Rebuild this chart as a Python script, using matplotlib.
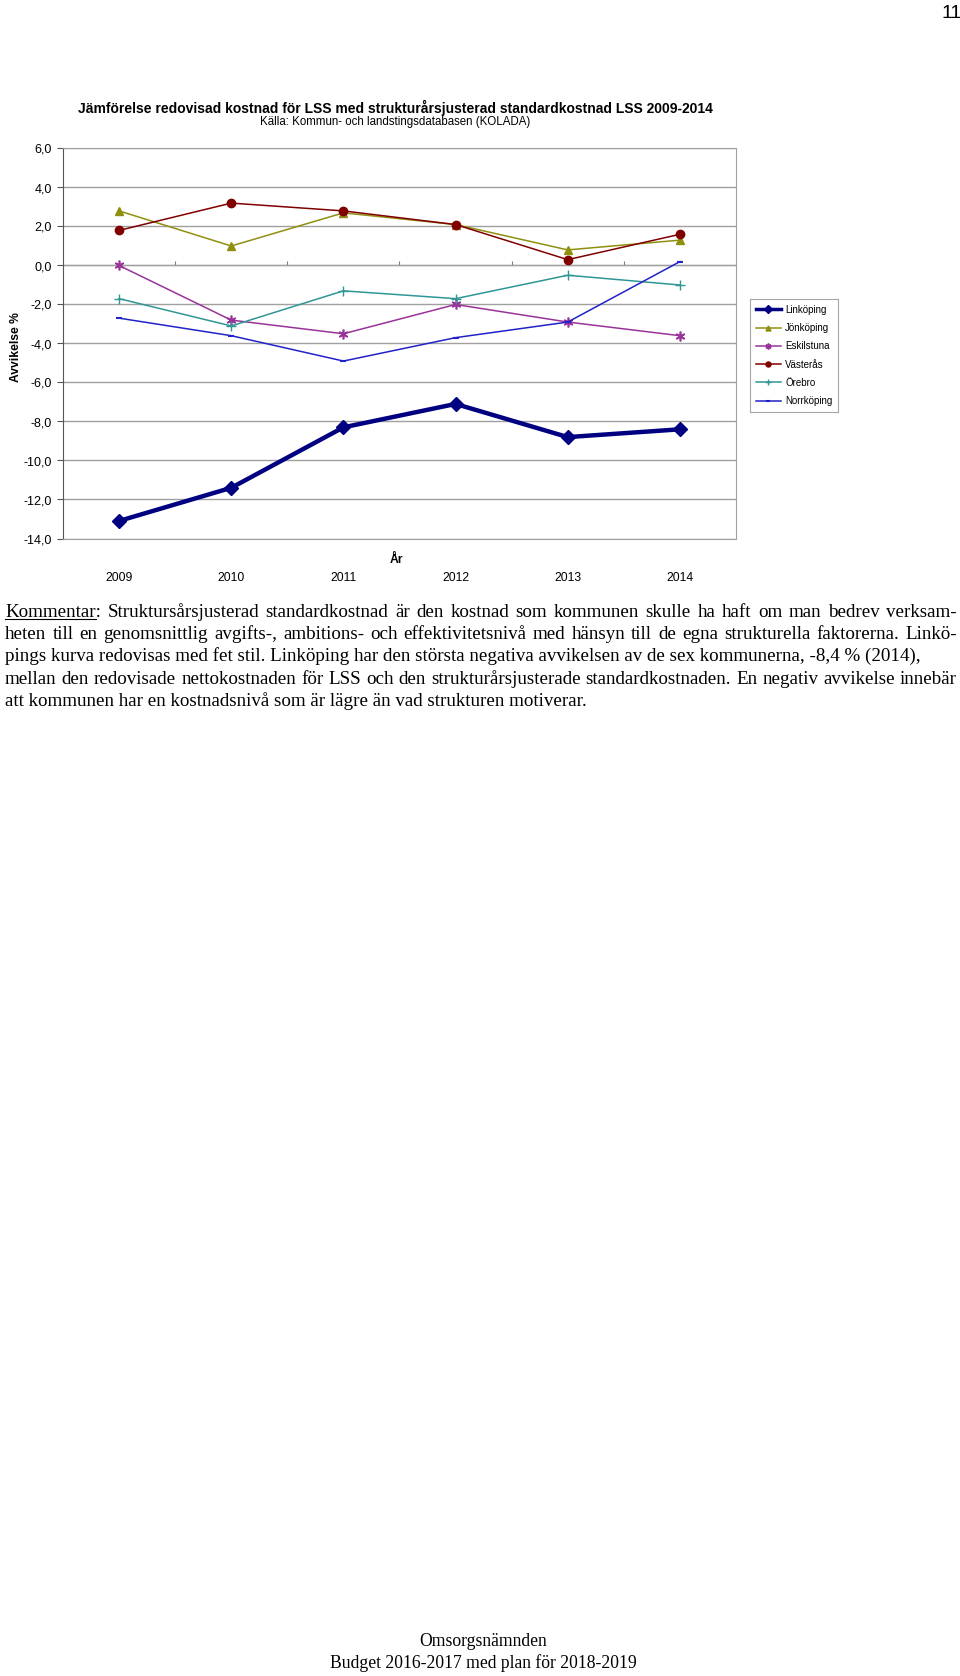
import matplotlib
matplotlib.use("Agg")
import matplotlib.pyplot as plt
from matplotlib.lines import Line2D

# Data (avvikelse %)
years = ["2009", "2010", "2011", "2012", "2013", "2014"]
linkoping = [-13.1, -11.4, -8.3, -7.1, -8.8, -8.4]
jonkoping = [2.8, 1.0, 2.7, 2.1, 0.8, 1.3]
eskilstuna = [0.0, -2.8, -3.5, -2.0, -2.9, -3.6]
vasteras = [1.8, 3.2, 2.8, 2.1, 0.3, 1.6]
orebro = [-1.7, -3.1, -1.3, -1.7, -0.5, -1.0]
norrkoping = [-2.7, -3.6, -4.9, -3.7, -2.9, 0.2]

yticks = [6, 4, 2, 0, -2, -4, -6, -8, -10, -12, -14]

comment_lines = [
    "Kommentar: Struktursårsjusterad standardkostnad är den kostnad som kommunen skulle ha haft om man bedrev verksam-",
    "heten till en genomsnittlig avgifts-, ambitions- och effektivitetsnivå med hänsyn till de egna strukturella faktorerna. Linkö-",
    "pings kurva redovisas med fet stil. Linköping har den största negativa avvikelsen av de sex kommunerna, -8,4 % (2014),",
    "mellan den redovisade nettokostnaden för LSS och den strukturårsjusterade standardkostnaden. En negativ avvikelse innebär",
    "att kommunen har en kostnadsnivå som är lägre än vad strukturen motiverar.",
]
justified = [True, True, False, True, False]

W, H = 960, 1676
fig = plt.figure(figsize=(W / 100, H / 100), dpi=100)
plt.rcParams["font.family"] = ["Liberation Sans", "DejaVu Sans"]

ax = fig.add_axes([63 / W, 1 - 538.5 / H, (736 - 63) / W, (538.5 - 148.5) / H])
x = list(range(len(years)))

series = [
    ("Linköping", linkoping, dict(color="#000080", lw=3.2, marker="D", ms=7)),
    ("Jönköping", jonkoping, dict(color="#8f8f10", lw=1.1, marker="^", ms=6)),
    ("Eskilstuna", eskilstuna, dict(color="#993399", lw=1.1, marker=(6, 2, 0), ms=7, mew=1.2)),
    ("Västerås", vasteras, dict(color="#800000", lw=1.1, marker="o", ms=6)),
    ("Örebro", orebro, dict(color="#2f9696", lw=1.1, marker="+", ms=7, mew=1.0)),
    ("Norrköping", norrkoping, dict(color="#2222c8", lw=1.1, marker="_", ms=4, mew=1.5)),
]
for name, vals, st in series:
    ax.plot(x, vals, label=name, **st, zorder=3)

ax.set_xlim(-0.5, len(years) - 0.5)
ax.set_ylim(-14, 6)
ax.set_yticks(yticks)
ax.set_yticklabels([f"{v:.1f}".replace(".", ",") for v in yticks], fontsize=9)
ax.tick_params(axis="y", direction="out", length=4, color="#555555", pad=4)
ax.grid(axis="y", color="#a0a0a0", lw=1.0)
ax.set_axisbelow(True)

# category labels below the plot area
ax.set_xticks(x)
ax.set_xticklabels(years, fontsize=8.7)
ax.tick_params(axis="x", length=0, pad=24)

for s in ["top", "right", "bottom"]:
    ax.spines[s].set_color("#a0a0a0")
ax.spines["left"].set_color("#555555")

# category axis crossing at 0 with boundary ticks
ymin, ymax = ax.get_ylim()
sec = ax.secondary_xaxis((0 - ymin) / (ymax - ymin))
sec.set_xticks([i + 0.5 for i in x[:-1]])
sec.set_xticklabels([])
sec.tick_params(direction="out", length=3, color="#808080")
sec.spines["bottom"].set_color("#808080")

ax.set_ylabel("Avvikelse %", fontsize=8.7, fontweight="bold")
ax.yaxis.set_label_coords(-0.061, 0.49)
ax.text(0.495, -0.055, "År", transform=ax.transAxes, fontsize=8.7,
        fontweight="bold", ha="center", va="center")

leg = fig.legend(loc="upper left", bbox_to_anchor=(750 / W, 1 - 299 / H),
                 borderaxespad=0, fontsize=7, frameon=True, fancybox=False,
                 borderpad=0.6, labelspacing=0.85, handlelength=2.6,
                 handletextpad=0.4, markerscale=0.6)
leg.get_frame().set_edgecolor("#909090")
leg.get_frame().set_linewidth(0.8)
for h in leg.legend_handles:
    if h.get_linewidth() > 2:
        h.set_linewidth(2.5)

# titles
fig.text(395 / W, 1 - 108 / H, "Jämförelse redovisad kostnad för LSS med strukturårsjusterad standardkostnad LSS 2009-2014",
         fontsize=10, fontweight="bold", ha="center", va="center")
fig.text(395 / W, 1 - 122 / H, "Källa: Kommun- och landstingsdatabasen (KOLADA)",
         fontsize=8.3, ha="center", va="center")

fig.text(962 / W, 1 - 13 / H, "11", fontsize=14, ha="right", va="center")

# comment text, justified like the word processor did
serif = ["Liberation Serif", "DejaVu Serif"]
fs = 13.65
y0 = 617
dy = 22.2
left, right = 5, 957
fig.canvas.draw()
r = fig.canvas.get_renderer()


def width(s):
    t = fig.text(0, 0, s, family=serif, fontsize=fs)
    w = t.get_window_extent(renderer=r).width
    t.remove()
    return w


for i, line in enumerate(comment_lines):
    ypos = 1 - (y0 + i * dy) / H
    if not justified[i]:
        fig.text(left / W, ypos, line, family=serif, fontsize=fs, va="baseline")
        continue
    words = line.split(" ")
    ws = [width(w) for w in words]
    gap = (right - left - sum(ws)) / (len(words) - 1)
    xpos = left
    for w, wd in zip(words, ws):
        fig.text(xpos / W, ypos, w, family=serif, fontsize=fs, va="baseline")
        xpos += wd + gap

# underline "Kommentar"
uw = width("Kommentar")
fig.add_artist(Line2D([left / W, (left + uw) / W], [1 - (y0 + 2) / H] * 2, color="black", lw=0.8))

fig.text(483 / W, 1 - 1646 / H, "Omsorgsnämnden", family=serif, fontsize=12.7, ha="center", va="baseline")
fig.text(483 / W, 1 - 1668 / H, "Budget 2016-2017 med plan för 2018-2019", family=serif,
         fontsize=12.7, ha="center", va="baseline")

fig.savefig("out.png", dpi=100)
